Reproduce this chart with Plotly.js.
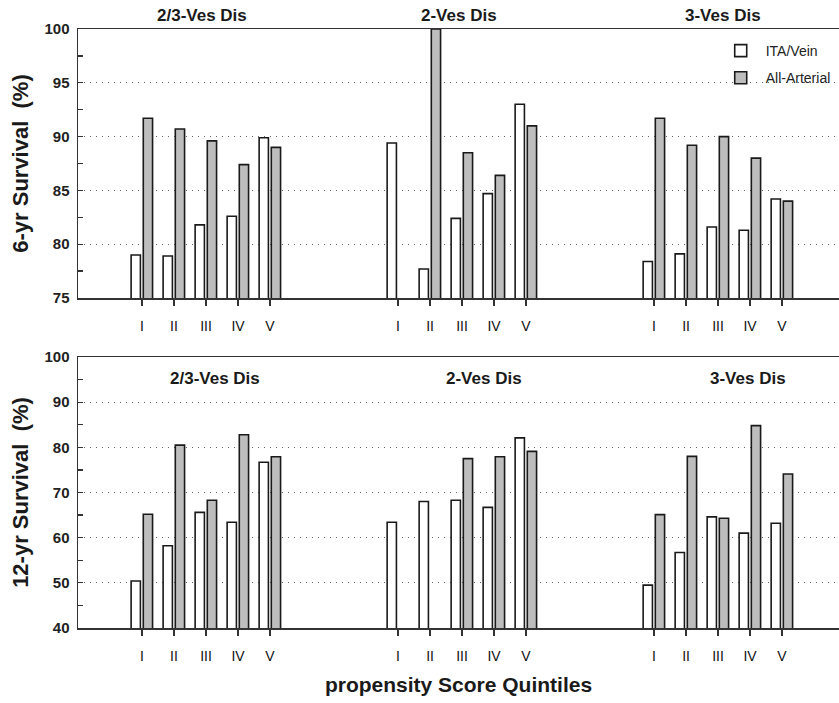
<!DOCTYPE html>
<html>
<head>
<meta charset="utf-8">
<script src="https://cdn.plot.ly/plotly-3.0.1.min.js"></script>
<style>html,body{margin:0;padding:0;background:#fff;overflow:hidden;}#chart{width:839px;height:703px;}</style>
</head>
<body>
<div id="chart"></div>
<script>
// ---- data ----
const quintiles = ['I', 'II', 'III', 'IV', 'V'];
const groups = ['2/3-Ves Dis', '2-Ves Dis', '3-Ves Dis'];
const seriesNames = ['ITA/Vein', 'All-Arterial'];
// 6-year survival (%), 5 quintiles per group, groups in order above
const itaVein6 = [79.0, 78.9, 81.8, 82.6, 89.9,  89.4, 77.7, 82.4, 84.7, 93.0,  78.4, 79.1, 81.6, 81.3, 84.2];
const allArterial6 = [91.7, 90.7, 89.6, 87.4, 89.0,  null, 100.0, 88.5, 86.4, 91.0,  91.7, 89.2, 90.0, 88.0, 84.0];
// 12-year survival (%)
const itaVein12 = [50.4, 58.2, 65.6, 63.4, 76.7,  63.4, 68.0, 68.3, 66.7, 82.1,  49.5, 56.7, 64.6, 61.0, 63.2];
const allArterial12 = [65.2, 80.5, 68.3, 82.8, 77.9,  null, null, 77.5, 77.9, 79.1,  65.1, 78.0, 64.3, 84.8, 74.1];

// ---- layout helpers ----
const GROUP_SPACING = 8;
const xPos = [], xLabels = [];
groups.forEach((g, gi) => quintiles.forEach((q, qi) => { xPos.push(gi * GROUP_SPACING + qi); xLabels.push(q); }));

const FONT = '"Liberation Sans", Arial, sans-serif';
const lineCol = '#333';
const barLine = {color: '#1a1a1a', width: 1.6};

function bars(y, name, fill, xa, ya, showlegend) {
  return {
    type: 'bar', x: xPos, y: y, name: name, xaxis: xa, yaxis: ya,
    width: 0.29, offset: fill === '#ffffff' ? -0.34 : 0.04,
    marker: {color: fill, line: barLine},
    showlegend: showlegend, legendgroup: name, hoverinfo: 'x+y'
  };
}

const traces = [
  bars(itaVein6, seriesNames[0], '#ffffff', 'x', 'y', true),
  bars(allArterial6, seriesNames[1], '#bdbdbd', 'x', 'y', true),
  bars(itaVein12, seriesNames[0], '#ffffff', 'x2', 'y2', false),
  bars(allArterial12, seriesNames[1], '#bdbdbd', 'x2', 'y2', false)
];

const xRange = [-2, 21.78];
function xAxis(anchor) {
  return {
    anchor: anchor, domain: [0, 1], range: xRange, showgrid: false, zeroline: false,
    tickmode: 'array', tickvals: xPos, ticktext: xLabels,
    ticks: 'outside', ticklen: 6, tickwidth: 1.3, tickcolor: lineCol,
    showline: true, mirror: true, linecolor: lineCol, linewidth: 1.5,
    ticklabelstandoff: 9,
    tickfont: {family: FONT, size: 14, color: '#111'}
  };
}
function yAxis(anchor, domain, range, dtick, title) {
  return {
    anchor: anchor, domain: domain, range: range, dtick: dtick, tick0: range[0],
    ticks: 'inside', ticklen: 5, tickwidth: 1.3, tickcolor: lineCol,
    minor: {dtick: dtick / 2, tick0: range[0], ticks: 'inside', ticklen: 5, tickwidth: 1.3, tickcolor: lineCol, showgrid: false},
    showgrid: true, gridcolor: '#666', griddash: '1.2px,4.8px', gridwidth: 1.2,
    showline: true, linecolor: lineCol, linewidth: 1.5, zeroline: false,
    ticklabelstandoff: 4,
    tickfont: {family: FONT, size: 15, color: '#222', weight: 'bold'},
    title: {text: title, standoff: 10, font: {family: FONT, size: 22, color: '#1a1a1a', weight: 'bold'}}
  };
}

const titleFont = {family: FONT, size: 17, color: '#1a1a1a', weight: 'bold'};
const topTitleX = [1.88, 9.9, 18.15];
const botTitleX = [2.28, 10.69, 18.94];
const annotations = [];
groups.forEach((g, i) => {
  annotations.push({text: '<b>' + g + '</b>', xref: 'x', yref: 'paper', x: topTitleX[i], y: 1,
    xanchor: 'center', yanchor: 'bottom', yshift: 2, showarrow: false, font: titleFont});
  annotations.push({text: '<b>' + g + '</b>', xref: 'x2', yref: 'y2', x: botTitleX[i], y: 95.3,
    xanchor: 'center', yanchor: 'middle', showarrow: false, font: titleFont});
});

const layout = {
  width: 839, height: 703,
  margin: {l: 78, r: 0, t: 29, b: 75},
  paper_bgcolor: '#ffffff', plot_bgcolor: '#ffffff',
  font: {family: FONT, color: '#222'},
  barmode: 'overlay',
  xaxis: xAxis('y'),
  yaxis: yAxis('x', [0.5509, 1], [75, 100], 5, '6-yr Survival \u00a0(%)'),
  xaxis2: Object.assign(xAxis('y2'), {
    title: {text: 'propensity Score Quintiles', standoff: 14, font: {family: FONT, size: 21, color: '#1a1a1a', weight: 'bold'}}
  }),
  yaxis2: yAxis('x2', [0, 0.4524], [40, 100], 10, '12-yr Survival \u00a0(%)'),
  showlegend: true,
  legend: {x: 0.838, y: 0.99, xanchor: 'left', yanchor: 'top', bgcolor: 'rgba(0,0,0,0)',
    font: {family: FONT, size: 14, color: '#222'}, tracegroupgap: 6, itemwidth: 40},
  annotations: annotations
};

Plotly.newPlot('chart', traces, layout, {displayModeBar: false, staticPlot: true});
</script>
</body>
</html>
